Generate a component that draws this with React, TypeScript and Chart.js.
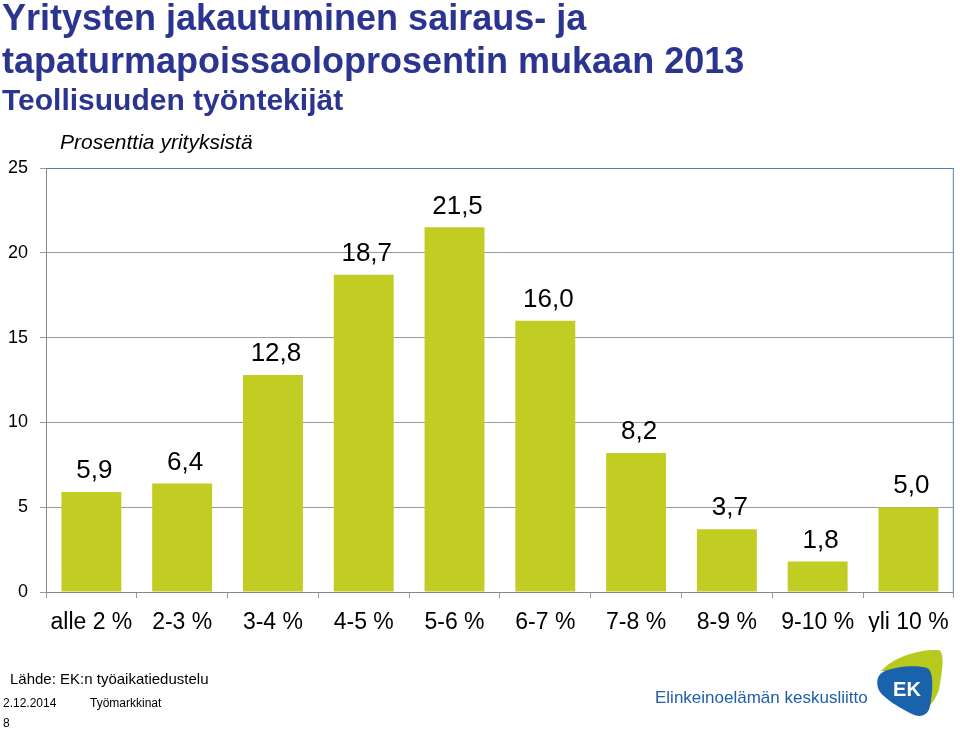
import React, { useEffect, useRef } from "react";
import { Chart, registerables } from "chart.js";

Chart.register(...registerables);

const categories = ["alle 2 %", "2-3 %", "3-4 %", "4-5 %", "5-6 %", "6-7 %", "7-8 %", "8-9 %", "9-10 %", "yli 10 %"];
const shares = [5.9, 6.4, 12.8, 18.7, 21.5, 16.0, 8.2, 3.7, 1.8, 5.0];
const yTicks = [0, 5, 10, 15, 20, 25];
const titleLines = ["Yritysten jakautuminen sairaus- ja", "tapaturmapoissaoloprosentin mukaan 2013"];
const subtitle = "Teollisuuden työntekijät";
const axisNote = "Prosenttia yrityksistä";
const sourceText = "Lähde: EK:n työaikatiedustelu";
const dateText = "2.12.2014";
const unitText = "Työmarkkinat";
const pageText = "8";
const orgText = "Elinkeinoelämän keskusliitto";

const FONT = '"Liberation Sans", Arial, Helvetica, sans-serif';
const TITLE_BLUE = "#2b3590";
const BAR = "#c2cd23";

const valueLabels = {
  id: "valueLabels",
  afterDatasetsDraw(chart: any) {
    const ctx = chart.ctx;
    const meta = chart.getDatasetMeta(0);
    ctx.save();
    ctx.font = `26px ${FONT}`;
    ctx.fillStyle = "#000";
    ctx.textAlign = "center";
    ctx.textBaseline = "middle";
    meta.data.forEach((el: any, i: number) => {
      const v = shares[i];
      ctx.fillText(v.toFixed(1).replace(".", ","), el.x + 3, el.y - 21);
    });
    ctx.restore();
  },
};

const decor = {
  id: "decor",
  afterDraw(chart: any) {
    const ctx = chart.ctx;
    const a = chart.chartArea;
    ctx.save();
    // plot border top/right
    ctx.strokeStyle = "#4f81bd";
    ctx.lineWidth = 1;
    ctx.beginPath();
    ctx.moveTo(a.left, a.top + 0.5);
    ctx.lineTo(a.right - 0.5, a.top + 0.5);
    ctx.lineTo(a.right - 0.5, a.bottom);
    ctx.stroke();

    // titles
    ctx.fillStyle = TITLE_BLUE;
    ctx.textAlign = "left";
    ctx.textBaseline = "alphabetic";
    ctx.font = `bold 36px ${FONT}`;
    ctx.fillText(titleLines[0], 2, 30);
    ctx.fillText(titleLines[1], 2, 73);
    ctx.font = `bold 30px ${FONT}`;
    ctx.fillText(subtitle, 2, 110);
    ctx.fillStyle = "#000";
    ctx.font = `italic 21px ${FONT}`;
    ctx.fillText(axisNote, 60, 149);

    // footer
    ctx.font = `15px ${FONT}`;
    ctx.fillText(sourceText, 10, 684);
    ctx.font = `12px ${FONT}`;
    ctx.fillText(dateText, 3, 707);
    ctx.fillText(unitText, 90, 707);
    ctx.fillText(pageText, 3, 727);

    // logo text
    ctx.fillStyle = "#1d5fa8";
    ctx.font = `17px ${FONT}`;
    ctx.fillText(orgText, 655, 703);

    // logo: green swoosh
    ctx.fillStyle = "#b5c91e";
    ctx.beginPath();
    ctx.moveTo(881, 671);
    ctx.bezierCurveTo(893, 657, 920, 649, 938, 650);
    ctx.bezierCurveTo(945, 651, 943, 668, 939, 690);
    ctx.bezierCurveTo(935, 700, 931, 705, 928, 706);
    ctx.lineTo(926, 672);
    ctx.closePath();
    ctx.fill();
    // blue blob
    ctx.fillStyle = "#1b62ac";
    ctx.beginPath();
    ctx.moveTo(883, 672);
    ctx.bezierCurveTo(895, 666, 918, 665, 927, 668);
    ctx.bezierCurveTo(934, 671, 933, 690, 930, 706);
    ctx.bezierCurveTo(928, 716, 920, 718, 912, 714);
    ctx.bezierCurveTo(898, 707, 881, 697, 878, 688);
    ctx.bezierCurveTo(876, 680, 878, 675, 883, 672);
    ctx.closePath();
    ctx.fill();
    ctx.fillStyle = "#fff";
    ctx.font = `bold 20px ${FONT}`;
    ctx.textAlign = "center";
    ctx.textBaseline = "middle";
    ctx.fillText("EK", 907, 690);
    ctx.restore();
  },
};

export default function App() {
  const ref = useRef<HTMLCanvasElement>(null);
  useEffect(() => {
    if (!ref.current) return;
    const chart = new Chart(ref.current, {
      type: "bar",
      data: {
        labels: categories,
        datasets: [
          {
            data: shares,
            backgroundColor: BAR,
            borderWidth: 0,
            barPercentage: 0.66,
            categoryPercentage: 1,
          },
        ],
      },
      options: {
        responsive: false,
        animation: false,
        devicePixelRatio: 1,
        layout: { padding: { top: 168, right: 6, left: 0, bottom: 98 } },
        plugins: {
          legend: { display: false },
          title: { display: false },
          tooltip: { enabled: false },
        },
        scales: {
          x: {
            offset: true,
            afterFit: (s: any) => {
              s.height = 40;
            },
            grid: {
              offset: true,
              drawOnChartArea: false,
              drawTicks: true,
              tickLength: 6,
              color: "#999",
            },
            border: { color: "#888", width: 1 },
            ticks: {
              font: { family: FONT, size: 23 },
              color: "#000",
              padding: 11,
              maxRotation: 0,
              autoSkip: false,
            },
          },
          y: {
            min: 0,
            max: 25,
            afterFit: (s: any) => {
              s.width = 46;
            },
            afterBuildTicks: (s: any) => {
              s.ticks = yTicks.map((v) => ({ value: v }));
            },
            grid: {
              color: "#999",
              tickLength: 6,
              drawTicks: true,
            },
            border: { color: "#888", width: 1 },
            ticks: {
              font: { family: FONT, size: 18 },
              color: "#000",
              padding: 12,
            },
          },
        },
      },
      plugins: [valueLabels, decor],
    });
    return () => chart.destroy();
  }, []);
  return (
    <div style={{ position: "absolute", left: 0, top: 0, width: 960, height: 730, background: "#fff" }}>
      <canvas ref={ref} width={960} height={730} />
    </div>
  );
}
